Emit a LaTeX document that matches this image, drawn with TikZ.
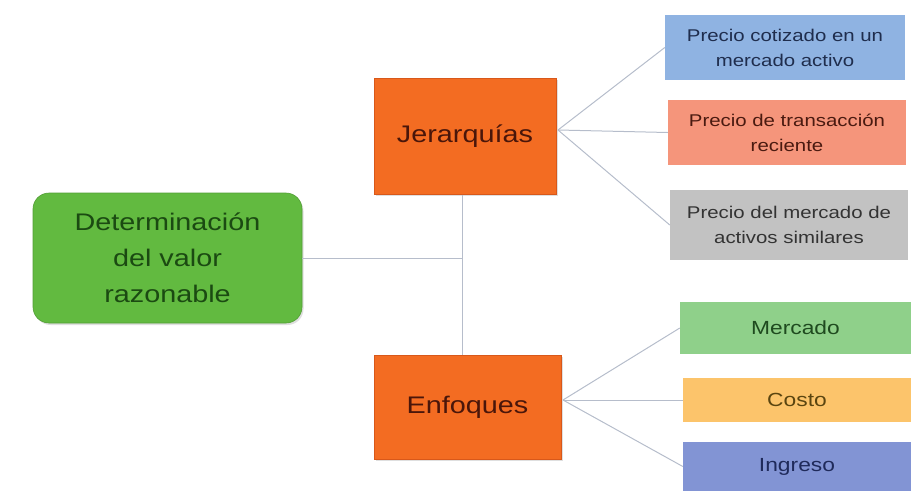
\documentclass[tikz,border=0pt]{standalone}
\usepackage{fontspec}
\setmainfont{Liberation Sans}[FakeStretch=1.2]
\usetikzlibrary{shadows}
\definecolor{linec}{HTML}{B6BDCB}
\definecolor{greenf}{HTML}{62BA40}
\definecolor{greent}{HTML}{1B4A12}
\definecolor{orangef}{HTML}{F36C22}
\definecolor{oranged}{HTML}{D8581A}
\definecolor{oranget}{HTML}{4A160A}
\definecolor{bluef}{HTML}{8FB3E2}
\definecolor{bluet}{HTML}{1F2D4D}
\definecolor{salmf}{HTML}{F5957B}
\definecolor{salmt}{HTML}{4A1A10}
\definecolor{grayf}{HTML}{C2C2C2}
\definecolor{grayt}{HTML}{333333}
\definecolor{mercf}{HTML}{8FD08A}
\definecolor{merct}{HTML}{1F4A1F}
\definecolor{costf}{HTML}{FCC46B}
\definecolor{costt}{HTML}{5A4510}
\definecolor{ingf}{HTML}{8294D4}
\definecolor{ingt}{HTML}{1F2A5A}
\tikzset{
  conn/.style={draw=linec, line width=1pt},
  mainbox/.style={rounded corners=16pt, fill=greenf, draw=greenf!85!black, line width=0.6pt,
    text=greent, align=center, inner sep=0pt, font=\fontsize{24}{36}\selectfont,
    drop shadow={shadow xshift=1.5pt, shadow yshift=-2pt, opacity=0.25}},
  midbox/.style={fill=orangef, draw=oranged, line width=1pt, text=oranget, align=center,
    inner sep=0pt, font=\fontsize{24}{30}\selectfont,
    drop shadow={shadow xshift=1.5pt, shadow yshift=-2pt, opacity=0.25}},
  leafbox/.style={inner sep=0pt, align=center, font=\fontsize{17}{25}\selectfont},
  leafbig/.style={inner sep=0pt, align=center, font=\fontsize{19}{24}\selectfont},
}
\begin{document}
\begin{tikzpicture}[x=1pt,y=-1pt]
\useasboundingbox (0,0) rectangle (911,493);
% nodes
\node[mainbox, minimum width=269pt, minimum height=130pt] (det) at (167.5,258) {Determinación\\del valor\\razonable};
\node[midbox, minimum width=182pt, minimum height=116pt] (jer) at (465,136) {Jerarquías};
\node[midbox, minimum width=187pt, minimum height=104pt] (enf) at (467.5,407) {Enfoques};
\node[leafbox, fill=bluef, text=bluet, minimum width=240pt, minimum height=65pt] (p1) at (785,47.5) {Precio cotizado en un\\mercado activo};
\node[leafbox, fill=salmf, text=salmt, minimum width=238pt, minimum height=65pt] (p2) at (787,132.5) {Precio de transacción\\reciente};
\node[leafbox, fill=grayf, text=grayt, minimum width=238pt, minimum height=70pt] (p3) at (789,225) {Precio del mercado de\\activos similares};
\node[leafbig, fill=mercf, text=merct, minimum width=231pt, minimum height=52pt] (m1) at (795.5,328) {Mercado};
\node[leafbig, fill=costf, text=costt, minimum width=228pt, minimum height=44pt] (m2) at (797,400) {Costo};
\node[leafbig, fill=ingf, text=ingt, minimum width=228pt, minimum height=49pt] (m3) at (797,466.5) {Ingreso};
% hubs
\coordinate (junc) at (462,258);
\coordinate (jhub) at (558,130);
\coordinate (ehub) at (563,400);
% connectors
\begin{scope}[on background layer/.style={}]
\draw[conn] (det.east) -- (junc);
\draw[conn] (jer.south -| junc) -- (enf.north -| junc);
\draw[conn] (jhub) -- (p1.west);
\draw[conn] (jhub) -- (p2.west);
\draw[conn] (jhub) -- (p3.west);
\draw[conn] (ehub) -- (m1.west);
\draw[conn] (ehub) -- (m2.west);
\draw[conn] (ehub) -- (m3.west);
\end{scope}
\end{tikzpicture}
\end{document}
